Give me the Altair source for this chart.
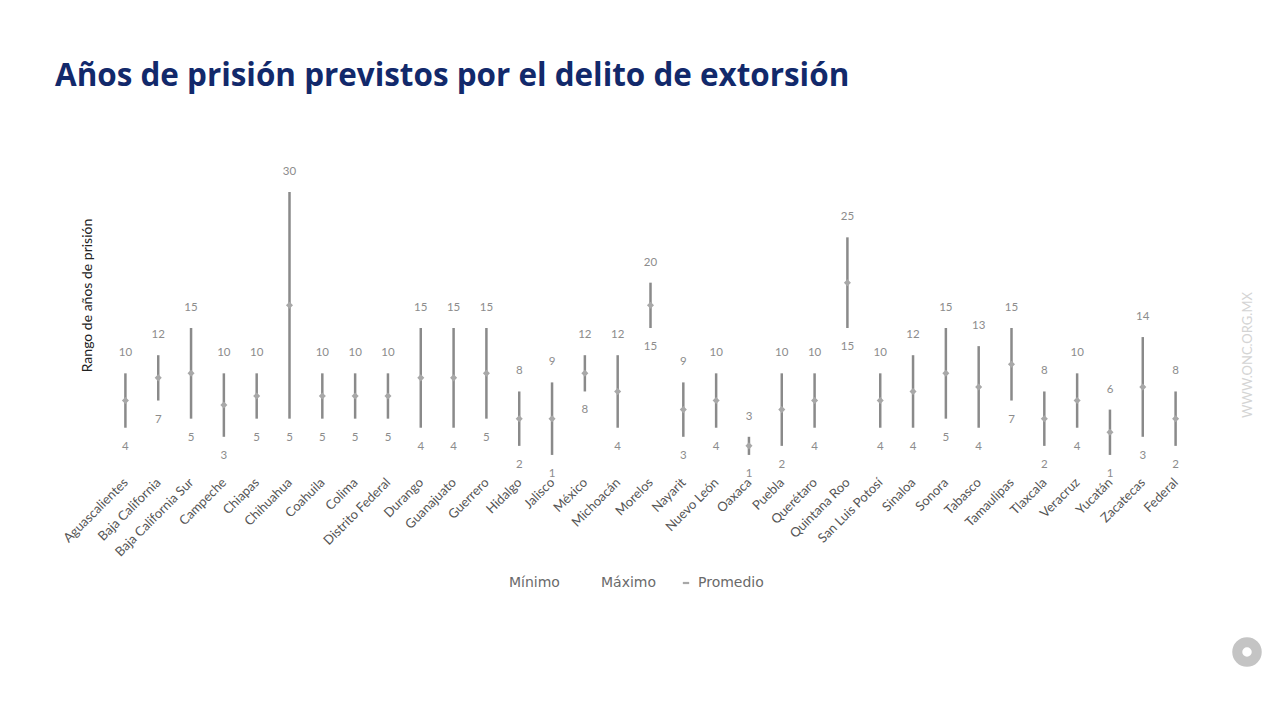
import altair as alt
import pandas as pd

estados = ["Aguascalientes", "Baja California", "Baja California Sur", "Campeche", "Chiapas",
           "Chihuahua", "Coahuila", "Colima", "Distrito Federal", "Durango", "Guanajuato",
           "Guerrero", "Hidalgo", "Jalisco", "México", "Michoacán", "Morelos", "Nayarit",
           "Nuevo León", "Oaxaca", "Puebla", "Querétaro", "Quintana Roo", "San Luis Potosí",
           "Sinaloa", "Sonora", "Tabasco", "Tamaulipas", "Tlaxcala", "Veracruz", "Yucatán",
           "Zacatecas", "Federal"]
minimo = [4, 7, 5, 3, 5, 5, 5, 5, 5, 4, 4, 5, 2, 1, 8, 4, 15, 3, 4, 1, 2, 4, 15, 4,
          4, 5, 4, 7, 2, 4, 1, 3, 2]
maximo = [10, 12, 15, 10, 10, 30, 10, 10, 10, 15, 15, 15, 8, 9, 12, 12, 20, 9, 10, 3, 10, 10, 25, 10,
          12, 15, 13, 15, 8, 10, 6, 14, 8]
promedio = [7, 9.5, 10, 6.5, 7.5, 17.5, 7.5, 7.5, 7.5, 9.5, 9.5, 10, 5, 5, 10, 8, 17.5, 6, 7, 2, 6, 7, 20, 7,
            8, 10, 8.5, 11, 5, 7, 3.5, 8.5, 5]
leyenda = ["Mínimo", "Máximo", "Promedio"]

df = pd.DataFrame({"estado": estados, "minimo": minimo, "maximo": maximo, "promedio": promedio,
                   "serie": "Promedio"})

FONT = "Lato"
x = alt.X("estado:N", sort=estados, title=None,
          scale=alt.Scale(type="point", padding=0.5),
          axis=alt.Axis(labelAngle=-45, labelAlign="right", labelBaseline="middle",
                        labelPadding=16, labelFontSize=13, labelColor="#555555", labelFont=FONT,
                        ticks=False, domain=False, grid=False))
yscale = alt.Scale(domain=[0, 30], nice=False, zero=True)

base = alt.Chart(df)

rules = base.mark_rule(color="#8a8a8a", strokeWidth=2.5).encode(
    x=x,
    y=alt.Y("minimo:Q", scale=yscale,
            axis=alt.Axis(title="Rango de años de prisión", labels=False, ticks=False,
                          domain=False, grid=False, titleFont=FONT, titleFontSize=14,
                          titleFontWeight="normal", titleColor="#222222",
                          titleX=-15, titleY=103, titleAlign="center", titleAngle=-90)),
    y2="maximo:Q",
)

points = base.mark_point(shape="diamond", filled=True, opacity=1, size=50).encode(
    x=x,
    y=alt.Y("promedio:Q", scale=yscale),
    color=alt.Color("serie:N",
                    scale=alt.Scale(domain=leyenda, range=["#ffffff", "#ffffff", "#a8a8a8"]),
                    legend=alt.Legend(title=None, orient="none", direction="horizontal",
                                      legendX=381, legendY=384, labelFont="DejaVu Sans",
                                      labelFontSize=14, labelColor="#6a6a6a",
                                      symbolType="M-1,-0.35H1V0.35H-1Z", symbolSize=40,
                                      symbolStrokeWidth=0, columnPadding=22, labelOffset=5)),
)

txt_max = base.mark_text(dy=-20, fontSize=11.5, color="#8c8c8c", font=FONT).encode(
    x=x, y=alt.Y("maximo:Q", scale=yscale), text="maximo:Q")
txt_min = base.mark_text(dy=19, fontSize=11.5, color="#8c8c8c", font=FONT).encode(
    x=x, y=alt.Y("minimo:Q", scale=yscale), text="minimo:Q")

marca = alt.Chart(pd.DataFrame({"t": ["WWW.ONC.ORG.MX"]})).mark_text(
    angle=270, fontSize=13, color="#d4d4d4", font=FONT).encode(
    text="t:N", x=alt.value(1139), y=alt.value(163))

logo = alt.Chart(pd.DataFrame({"t": ["logo"]})).mark_point(
    shape="circle", filled=False, stroke="#c4c4c4", strokeWidth=10, size=380, opacity=1).encode(
    x=alt.value(1138), y=alt.value(460))

chart = alt.layer(rules, points, txt_max, txt_min, marca, logo).properties(
    width=1083, height=272,
    autosize=alt.AutoSizeParams(type="none"),
    padding={"left": 101, "top": 184, "right": 80, "bottom": 252},
    title=alt.TitleParams("Años de prisión previstos por el delito de extorsión",
                          anchor="start", frame="group", dx=-54, offset=74,
                          font="Open Sans", fontSize=31.4, fontWeight="bold", color="#12296b"),
).configure(background="#ffffff", view=alt.ViewConfig(strokeWidth=0, stroke="transparent"))

chart.save("out.html", embed_options={"renderer": "svg", "actions": False})
